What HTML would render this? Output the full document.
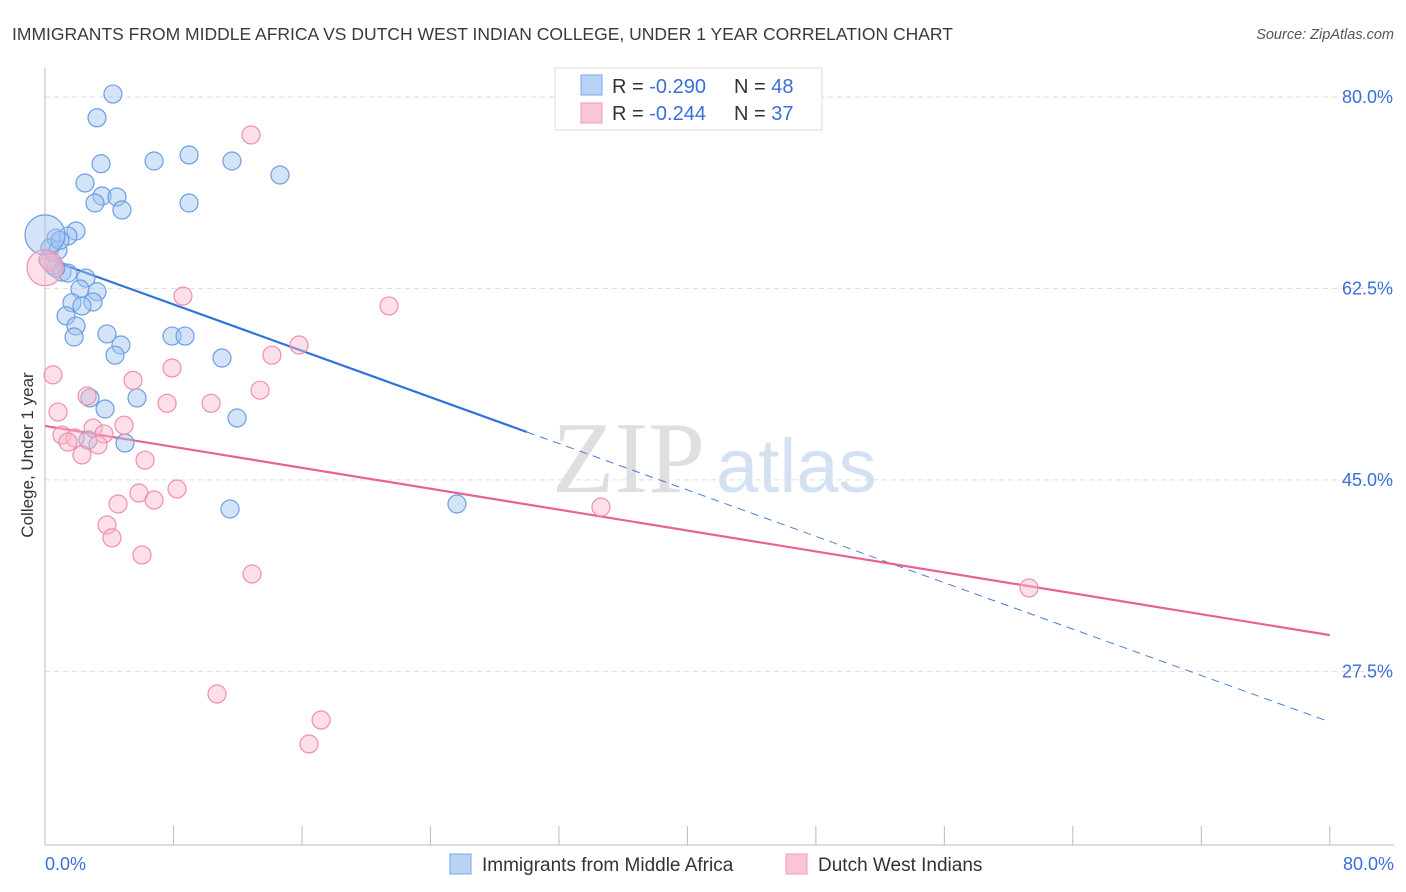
<!DOCTYPE html>
<html><head><meta charset="utf-8"><style>
body{margin:0;background:#fff;font-family:"Liberation Sans",sans-serif}
svg{display:block}
</style></head><body>
<svg id="chart" width="1406" height="892" viewBox="0 0 1406 892" xmlns="http://www.w3.org/2000/svg">
<text x="12" y="40" font-size="17.5" fill="#3a3a3a">IMMIGRANTS FROM MIDDLE AFRICA VS DUTCH WEST INDIAN COLLEGE, UNDER 1 YEAR CORRELATION CHART</text>
<text x="1394" y="39" font-size="14.5" fill="#555" font-style="italic" text-anchor="end">Source: ZipAtlas.com</text>
<g>
<text x="552" y="492" font-family="Liberation Serif,serif" font-size="102" fill="#d8d8d8" opacity="0.8">ZIP</text>
<text x="716" y="492" font-size="76" fill="#c9daf0" opacity="0.8">atlas</text>
</g>
<g id="grid"></g>
<g id="axes"></g>
<g id="lines"></g>
<g id="points"></g>
<text transform="translate(33,455) rotate(-90)" font-size="17" fill="#333" text-anchor="middle">College, Under 1 year</text>
<g>
<rect x="555" y="68" width="267" height="62" fill="#fff" stroke="#ddd"/>
<rect x="581" y="75" width="21" height="20" fill="#b8d3f5" stroke="#7aa7e6"/>
<rect x="581" y="103" width="21" height="20" fill="#fac6d6" stroke="#f09ab4"/>
<text x="612" y="93" font-size="20" fill="#333">R = <tspan fill="#3a6fd8">-0.290</tspan><tspan x="734">N = </tspan><tspan fill="#3a6fd8">48</tspan></text>
<text x="612" y="120" font-size="20" fill="#333">R = <tspan fill="#3a6fd8">-0.244</tspan><tspan x="734">N = </tspan><tspan fill="#3a6fd8">37</tspan></text>
</g>
<g>
<rect x="450" y="854" width="21" height="20" fill="#b8d3f5" stroke="#7aa7e6"/>
<text x="482" y="871" font-size="19" fill="#333">Immigrants from Middle Africa</text>
<rect x="786" y="854" width="21" height="20" fill="#fac6d6" stroke="#f09ab4"/>
<text x="818" y="871" font-size="19" fill="#333">Dutch West Indians</text>
</g>
<text x="45" y="870" font-size="18" fill="#3a6fd8">0.0%</text>
<text x="1394" y="870" font-size="18" fill="#3a6fd8" text-anchor="end">80.0%</text>
</svg>
<script>
const yTicks=[80,62.5,45,27.5];
const yTickLabels=["80.0%","62.5%","45.0%","27.5%"];
const xTicks=[0,8,16,24,32,40,48,56,64,72,80];
const blueX=[4.23,3.24,3.49,6.79,8.97,11.64,14.63,2.49,3.55,4.48,3.11,4.79,8.97,0.68,1.93,1.43,0.31,0.81,0.5,1.06,1.43,2.55,2.18,3.24,1.68,2.99,2.3,1.31,1.93,1.81,3.86,7.91,8.72,4.73,4.36,11.02,5.73,2.8,3.74,11.96,2.68,4.98,11.52,25.65,0.68,0.93,0.19,0.0];
const blueY=[80.27,78.1,73.9,74.15,74.7,74.15,72.87,72.14,70.95,70.86,70.31,69.67,70.31,67.1,67.75,67.3,66.2,66.0,64.6,64.0,63.9,63.45,62.45,62.2,61.2,61.26,60.9,60.0,59.07,58.06,58.34,58.15,58.15,57.33,56.4,56.14,52.49,52.49,51.48,50.66,48.65,48.37,42.34,42.8,64.37,66.9,65.1,67.4];
const blueR=[9,9,9,9,9,9,9,9,9,9,9,9,9,9,9,9,9,9,9,9,9,9,9,9,9,9,9,9,9,9,9,9,9,9,9,9,9,9,9,9,9,9,9,9,9,9,9,20];
const pinkX=[12.83,8.59,21.42,15.82,14.13,7.91,0.5,5.48,13.39,2.62,7.6,10.34,0.81,4.92,2.99,1.06,3.67,1.87,1.43,3.3,2.3,6.23,8.22,5.85,6.79,4.55,34.62,3.86,4.17,6.04,12.89,61.27,10.71,17.19,16.44,0.3,0.0];
const pinkY=[76.53,61.8,60.9,57.33,56.4,55.23,54.6,54.1,53.2,52.67,52.0,52.0,51.2,50.0,49.74,49.1,49.2,48.83,48.46,48.2,47.28,46.8,44.17,43.8,43.16,42.8,42.52,40.88,39.7,38.14,36.4,35.12,25.43,23.05,20.86,64.9,64.4];
const pinkR=[9,9,9,9,9,9,9,9,9,9,9,9,9,9,9,9,9,9,9,9,9,9,9,9,9,9,9,9,9,9,9,9,9,9,9,9,18];
const blueFit=[65.28,-0.53,30];
const pinkFit=[49.93,-0.239];
const NS="http://www.w3.org/2000/svg";
const X=v=>45+v*16.06;
const Y=v=>97+(80-v)*10.94;
function mk(tag,parent,attrs){const e=document.createElementNS(NS,tag);for(const k in attrs)e.setAttribute(k,attrs[k]);document.getElementById(parent).appendChild(e);return e;}
yTicks.forEach((t,i)=>{
 const g=mk('line','grid',{x1:45,x2:1394,y1:Y(t),y2:Y(t),stroke:'#ddd','stroke-dasharray':'5,4'});
 
 
 const l=mk('text','grid',{x:1393,y:Y(t)+6,'font-size':18,fill:'#3a6fd8','text-anchor':'end'});
 l.textContent=yTickLabels[i];
 
 
});
const ya=mk('line','axes',{x1:45,x2:45,y1:68,y2:845,stroke:'#bbb'});


const xa=mk('line','axes',{x1:45,x2:1394,y1:845,y2:845,stroke:'#bbb'});


xTicks.forEach(t=>{
 const k=mk('line','axes',{x1:X(t),x2:X(t),y1:826,y2:845,stroke:'#bbb'});
 
 
});
function dot(x,y,r,fill,stroke,name){
 const c=mk('circle','points',{cx:X(x),cy:Y(y),r:r,fill:fill,stroke:stroke,'stroke-width':1.2});
 
 
}
blueX.forEach((x,i)=>dot(x,blueY[i],blueR[i],'rgba(160,196,240,0.45)','#6d9de2','blue-point'));
pinkX.forEach((x,i)=>dot(x,pinkY[i],pinkR[i],'rgba(248,184,204,0.45)','#f08eac','pink-point'));
const bl=mk('line','lines',{x1:X(0),y1:Y(blueFit[0]),x2:X(blueFit[2]),y2:Y(blueFit[0]+blueFit[1]*blueFit[2]),stroke:'#2f72d8','stroke-width':2.2});


const bd=mk('line','lines',{x1:X(blueFit[2]),y1:Y(blueFit[0]+blueFit[1]*blueFit[2]),x2:X(80),y2:Y(blueFit[0]+blueFit[1]*80),stroke:'#4a7fd0','stroke-width':1,'stroke-dasharray':'8,6'});


const pl=mk('line','lines',{x1:X(0),y1:Y(pinkFit[0]),x2:X(80),y2:Y(pinkFit[0]+pinkFit[1]*80),stroke:'#e8638f','stroke-width':2.2});


</script>
</body></html>
